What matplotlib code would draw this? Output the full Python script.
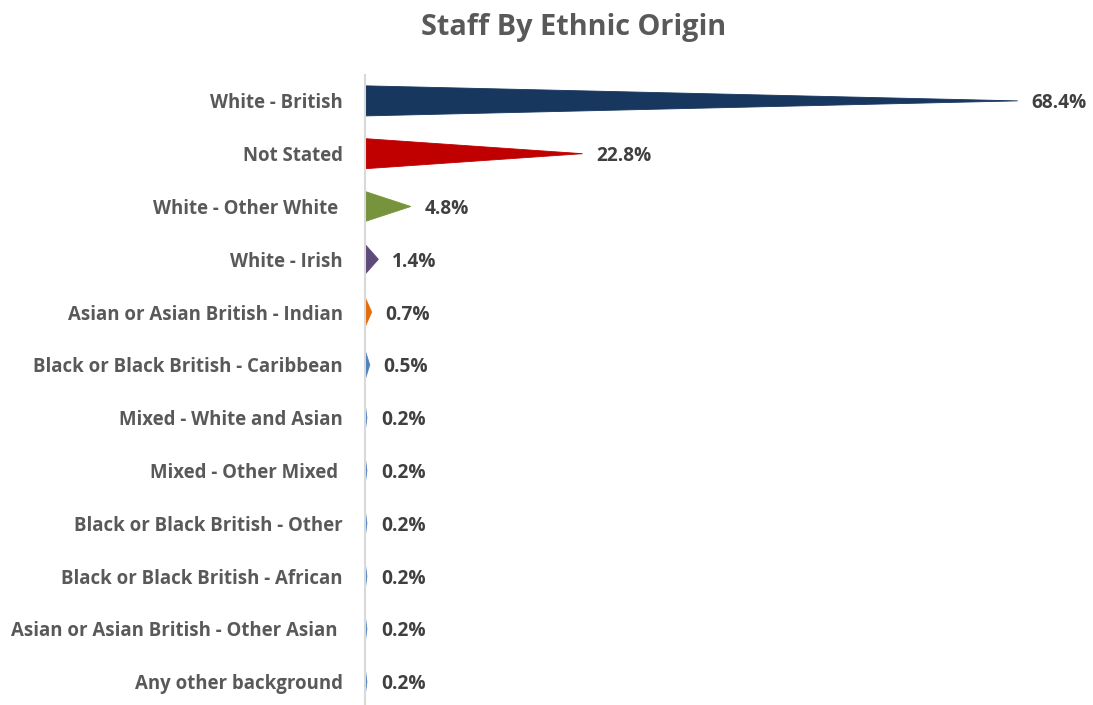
import matplotlib.pyplot as plt

# ── Data ──────────────────────────────────────────────────────────────────────

CATEGORIES = [
    "White - British",
    "Not Stated",
    "White - Other White ",
    "White - Irish",
    "Asian or Asian British - Indian",
    "Black or Black British - Caribbean",
    "Mixed - White and Asian",
    "Mixed - Other Mixed ",
    "Black or Black British - Other",
    "Black or Black British - African",
    "Asian or Asian British - Other Asian ",
    "Any other background",
]
SHARES = [68.4, 22.8, 4.8, 1.4, 0.7, 0.5, 0.2, 0.2, 0.2, 0.2, 0.2, 0.2]
COLORS = ["#17375e", "#c00000", "#77933c", "#604a7b", "#e46c0a"] + ["#4f81bd"] * 7

# ── Style ─────────────────────────────────────────────────────────────────────

FONT = ["Open Sans", "DejaVu Sans"]
TEXT_GREY = "#595959"
VALUE_GREY = "#404040"
BAR_HEIGHT = 0.57

plt.rcParams["font.family"] = FONT

fig = plt.figure(figsize=(10.93, 7.05), dpi=100)
fig.patch.set_facecolor("white")

W, H = 1093, 705
ax = fig.add_axes([365 / W, 0, 668 / W, 630 / H])

# pointed bars: full height at the axis, tapering to a tip at the value
for i, (val, col) in enumerate(zip(SHARES, COLORS)):
    ax.fill([0, val, 0], [i - BAR_HEIGHT / 2, i, i + BAR_HEIGHT / 2],
            color=col, lw=0.6, ec=col, zorder=3)
    ax.annotate(f"{val:.1f}%", xy=(val, i), xytext=(10, 0),
                textcoords="offset points", va="center_baseline", ha="left",
                fontsize=13.8, fontweight="bold", color=VALUE_GREY)

ax.set_xlim(0, 70)
ax.set_ylim(11.44, -0.49)
ax.set_yticks(range(len(CATEGORIES)))
ax.set_yticklabels(CATEGORIES, fontsize=13.4, fontweight="bold", color=TEXT_GREY,
                   va="center_baseline")
ax.tick_params(axis="y", length=0, pad=16)
ax.set_xticks([])

for side in ("top", "right", "bottom"):
    ax.spines[side].set_visible(False)
ax.spines["left"].set_color("#d9d9d9")
ax.spines["left"].set_linewidth(1.5)
ax.spines["left"].set_zorder(4)

fig.text(574 / W, 1 - 24 / H, "Staff By Ethnic Origin", ha="center", va="center_baseline",
         fontsize=20.8, fontweight="bold", color=TEXT_GREY)

fig.savefig("out.png", dpi=100, facecolor="white")
